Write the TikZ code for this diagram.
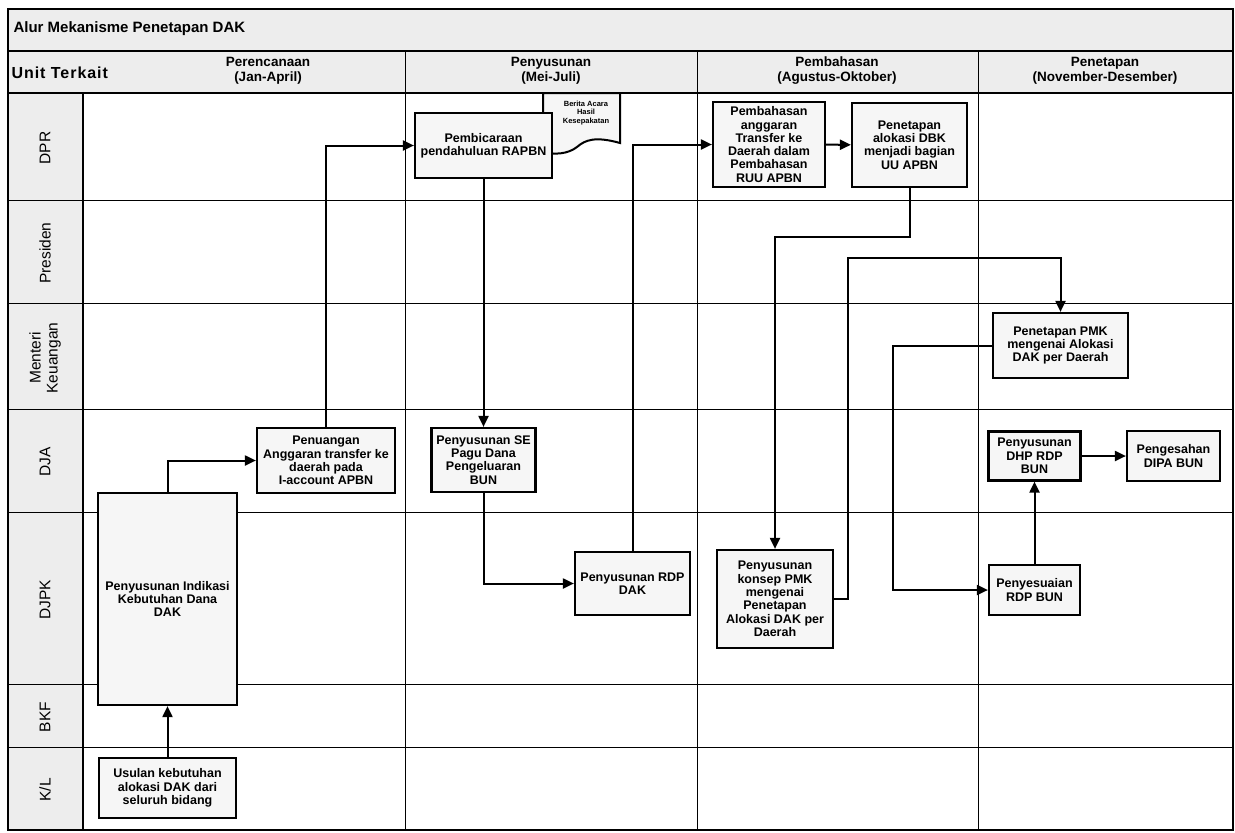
\documentclass[tikz,border=0pt]{standalone}
\usepackage{fontspec}
\setmainfont{Liberation Sans}
\usetikzlibrary{arrows.meta}
\begin{document}
\begin{tikzpicture}[x=1pt,y=-1pt,
        >={Triangle[length=11pt,width=10pt]},
        box/.style={draw,line width=2.2pt,fill=gray!7,align=center,inner sep=1pt,
                font=\fontsize{12.5}{13.3}\selectfont\bfseries},
        flow/.style={->,line width=2pt},
        lane/.style={rotate=90,align=center,font=\fontsize{15.5}{17}\selectfont},
        head/.style={align=center,font=\fontsize{13.5}{15}\selectfont\bfseries}]
        \useasboundingbox (0,0) rectangle (1235,833);
        \fill[gray!14] (8,9) rectangle (1233,93);
        \fill[gray!14] (8,93) rectangle (83,830);
        \draw[line width=1.2pt] (8,9) rectangle (1233,830);
        \draw[line width=1.2pt] (8,51) -- (1233,51) (8,93) -- (1233,93);
        \foreach \y in {200,303,409,512,684,747}
                \draw[line width=0.8pt] (8,\y) -- (1233,\y);
        \foreach \x in {405,697,978}
                \draw[line width=0.8pt] (\x,51) -- (\x,830);
        \draw[line width=2.2pt] (83,93) -- (83,830);
        \node[anchor=west,font=\fontsize{15}{17}\selectfont\bfseries] (judul) at (10,29) {Alur Mekanisme Penetapan DAK};
        \node[anchor=west,font=\fontsize{16}{18}\selectfont\bfseries\addfontfeature{LetterSpace=6}] (unit) at (8,73) {Unit Terkait};
        \node[head] (perencanaan) at (268,71) {Perencanaan\\(Jan-April)};
        \node[head] (penyusunan) at (551,71) {Penyusunan\\(Mei-Juli)};
        \node[head] (pembahasanh) at (837,71) {Pembahasan\\(Agustus-Oktober)};
        \node[head] (penetapanh) at (1105,71) {Penetapan\\(November-Desember)};
        \node[lane] (dpr) at (45,148) {DPR};
        \node[lane] (presiden) at (45,253) {Presiden};
        \node[lane] (menkeu) at (45,358) {Menteri\\Keuangan};
        \node[lane] (dja) at (45,462) {DJA};
        \node[lane] (djpk) at (45,600) {DJPK};
        \node[lane] (bkf) at (45,717) {BKF};
        \node[lane] (kl) at (45,790) {K/L};
        \draw[line width=2pt,fill=gray!7] (543,93) -- (620,93) -- (620,143)
                .. controls (595,136) and (585,140) .. (577,147)
                .. controls (568,154) and (555,155) .. (543,152) -- cycle;
        \node[align=center,font=\fontsize{7.5}{8.5}\selectfont\bfseries] (berita) at (586,113) {Berita Acara\\Hasil\\Kesepakatan};
        \node[box,minimum width=137,minimum height=65] (pembicaraan) at (483.5,145.5) {Pembicaraan\\pendahuluan RAPBN};
        \node[box,minimum width=112,minimum height=85] (pembahasan) at (769,144.5) {Pembahasan\\anggaran\\Transfer ke\\Daerah dalam\\Pembahasan\\RUU APBN};
        \node[box,minimum width=115,minimum height=84] (penetapan) at (909.5,145) {Penetapan\\alokasi DBK\\menjadi bagian\\UU APBN};
        \node[box,minimum width=138,minimum height=65] (penuangan) at (326,460.5) {Penuangan\\Anggaran transfer ke\\daerah pada\\I-account APBN};
        \node[box,minimum width=104,minimum height=64] (sebun) at (483.5,460) {Penyusunan SE\\Pagu Dana\\Pengeluaran\\BUN};
        \node[box,minimum width=139,minimum height=212] (indikasi) at (167.5,599) {Penyusunan Indikasi\\Kebutuhan Dana\\DAK};
        \node[box,minimum width=137,minimum height=60] (usulan) at (167.5,788) {Usulan kebutuhan\\alokasi DAK dari\\seluruh bidang};
        \node[box,minimum width=115,minimum height=63] (rdpdak) at (632.5,583.5) {Penyusunan RDP\\DAK};
        \node[box,minimum width=116,minimum height=98] (konsep) at (775,599) {Penyusunan\\konsep PMK\\mengenai\\Penetapan\\Alokasi DAK per\\Daerah};
        \node[box,minimum width=135,minimum height=65] (pmk) at (1060.5,345.5) {Penetapan PMK\\mengenai Alokasi\\DAK per Daerah};
        \node[box,minimum width=91,minimum height=50] (penyesuaian) at (1034.5,590) {Penyesuaian\\RDP BUN};
        \node[box,minimum width=92,minimum height=49] (dhp) at (1034.5,456) {Penyusunan\\DHP RDP\\BUN};
        \node[box,minimum width=93,minimum height=50] (pengesahan) at (1173.5,456) {Pengesahan\\DIPA BUN};
        \coordinate (b1) at (909.5,237);
        \coordinate (b2) at (848,258);
        \coordinate (b3) at (893,590);
        \draw[flow] (usulan) -- (indikasi);
        \draw[flow] (indikasi.north) |- (penuangan.west);
        \draw[flow] (penuangan.north) |- (pembicaraan.west);
        \draw[flow] (pembicaraan) -- (sebun);
        \draw[flow] (sebun.south) |- (rdpdak.west);
        \draw[flow] (rdpdak.north) |- (pembahasan.west);
        \draw[flow] (pembahasan) -- (penetapan);
        \draw[flow] (penetapan.south) -- (b1) -| (konsep.north);
        \draw[flow] (konsep.east) -| (b2) -| (pmk.north);
        \draw[flow] (pmk.west) -| (b3) -- (penyesuaian.west);
        \draw[flow] (penyesuaian) -- (dhp);
        \draw[flow] (dhp) -- (pengesahan);
\end{tikzpicture}
\end{document}
